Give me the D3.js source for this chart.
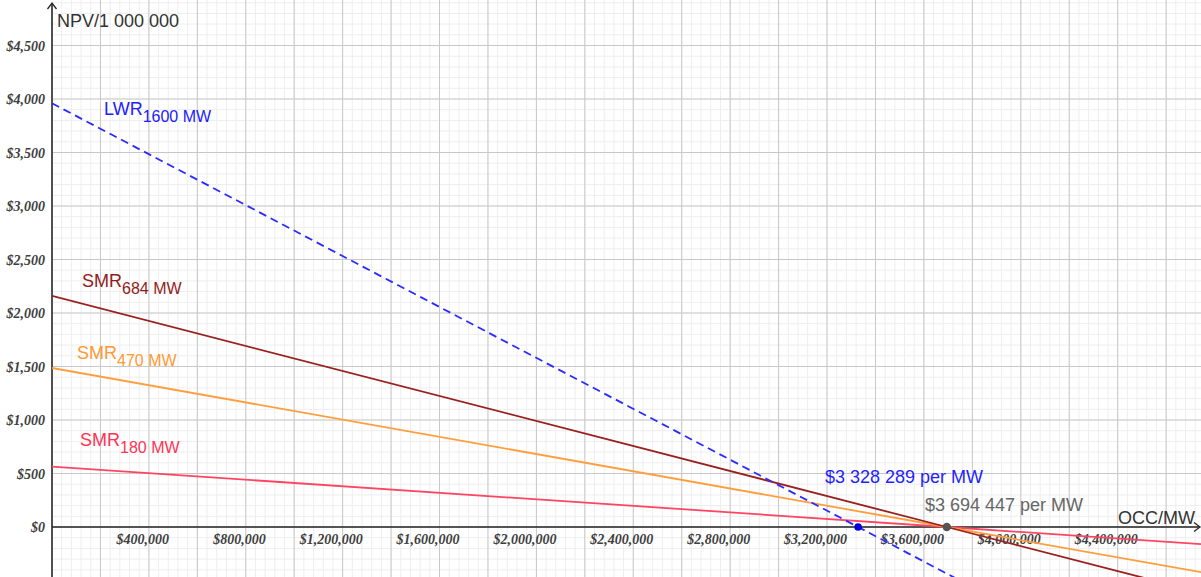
<!DOCTYPE html>
<html>
<head>
<meta charset="utf-8">
<script src="https://cdn.jsdelivr.net/npm/d3@7/dist/d3.min.js"></script>
<style>
  html, body { margin: 0; padding: 0; background: #fff; }
  svg { display: block; }
</style>
</head>
<body>
<svg id="chart" width="1201" height="577"></svg>
<script>
// ---------- data ----------
const seriesNames = ["LWR", "SMR684", "SMR470", "SMR180"];
const seriesMain = ["LWR", "SMR", "SMR", "SMR"];
const seriesSub = ["1600 MW", "684 MW", "470 MW", "180 MW"];
// NPV/1 000 000 at OCC = 0, at the break-even OCC, and at the right edge
const occPoints = {
  LWR: [0, 3328289, 4744000],
  SMR684: [0, 3694447, 4744000],
  SMR470: [0, 3694447, 4744000],
  SMR180: [0, 3694447, 4744000]
};
const npvPoints = {
  LWR: [3960, 0, -1684],
  SMR684: [2160, 0, -613],
  SMR470: [1486, 0, -422],
  SMR180: [564, 0, -160]
};
const breakEvenOcc = [3328289, 3694447];
const breakEvenLabels = ["$3 328 289 per MW", "$3 694 447 per MW"];
const xTickValues = [400000, 800000, 1200000, 1600000, 2000000, 2400000, 2800000, 3200000, 3600000, 4000000, 4400000];
const xTickLabels = ["$400,000", "$800,000", "$1,200,000", "$1,600,000", "$2,000,000", "$2,400,000", "$2,800,000", "$3,200,000", "$3,600,000", "$4,000,000", "$4,400,000"];
const yTickValues = [0, 500, 1000, 1500, 2000, 2500, 3000, 3500, 4000, 4500];
const yTickLabels = ["$0", "$500", "$1,000", "$1,500", "$2,000", "$2,500", "$3,000", "$3,500", "$4,000", "$4,500"];

// ---------- layout ----------
const W = 1201, H = 577;
const x0px = 52, y0px = 527;
const pxPerX = 48.44 / 200000;
const pxPerY = 53.5 / 500;
const x = d3.scaleLinear().domain([0, (W - x0px) / pxPerX]).range([x0px, W]);
const y = d3.scaleLinear().domain([-(H - y0px) / pxPerY, y0px / pxPerY]).range([H, 0]);

const svg = d3.select("#chart");
const colors = { LWR: "#2b2bff", SMR684: "#9a1f1f", SMR470: "#ff9e3d", SMR180: "#ff4561" };
const textColors = { LWR: "#2020ff", SMR684: "#921c1c", SMR470: "#ff9933", SMR180: "#ff3355" };

svg.append("defs").append("clipPath").attr("id", "plotClip")
  .append("rect").attr("x", x0px).attr("y", 0).attr("width", W - x0px).attr("height", H);

// ---------- grid ----------
const g = svg.append("g").attr("clip-path", "url(#plotClip)");
const xMinor = d3.range(0, x.domain()[1], 40000);
const yMinor = d3.range(Math.ceil(y.domain()[0] / 100) * 100, y.domain()[1], 100);
g.selectAll(".vxm").data(xMinor).enter().append("line")
  .attr("x1", d => x(d)).attr("x2", d => x(d)).attr("y1", 0).attr("y2", H)
  .attr("stroke", "#eeeeee").attr("stroke-width", 1);
g.selectAll(".hym").data(yMinor).enter().append("line")
  .attr("x1", x0px).attr("x2", W).attr("y1", d => y(d)).attr("y2", d => y(d))
  .attr("stroke", "#eeeeee").attr("stroke-width", 1);
const xMajor = d3.range(200000, x.domain()[1], 200000);
const yMajor = d3.range(-500, y.domain()[1], 500);
g.selectAll(".vxM").data(xMajor).enter().append("line")
  .attr("x1", d => x(d)).attr("x2", d => x(d)).attr("y1", 0).attr("y2", H)
  .attr("stroke", "#c8c8c8").attr("stroke-width", 1);
g.selectAll(".hyM").data(yMajor).enter().append("line")
  .attr("x1", x0px).attr("x2", W).attr("y1", d => y(d)).attr("y2", d => y(d))
  .attr("stroke", "#c8c8c8").attr("stroke-width", 1);

// ---------- axes ----------
const axisColor = "#262626";
svg.append("line").attr("x1", x0px).attr("x2", W - 2).attr("y1", y(0)).attr("y2", y(0))
  .attr("stroke", axisColor).attr("stroke-width", 1.5);
svg.append("line").attr("x1", x(0)).attr("x2", x(0)).attr("y1", 4).attr("y2", H)
  .attr("stroke", axisColor).attr("stroke-width", 1.6);
// arrows
svg.append("path").attr("d", `M${x(0) - 4.5},${9} L${x(0)},${3} L${x(0) + 4.5},${9}`)
  .attr("fill", "none").attr("stroke", axisColor).attr("stroke-width", 1.3);
svg.append("path").attr("d", `M${W - 7},${y(0) - 4.5} L${W - 1},${y(0)} L${W - 7},${y(0) + 4.5}`)
  .attr("fill", "none").attr("stroke", axisColor).attr("stroke-width", 1.3);

const tickFont = "'Liberation Serif', 'Times New Roman', serif";
svg.selectAll(".xt").data(xTickValues).enter().append("text")
  .attr("x", d => x(d) + 20).attr("y", y0px + 17)
  .attr("text-anchor", "end")
  .attr("font-family", tickFont).attr("font-style", "italic").attr("font-weight", "bold")
  .attr("font-size", "14px").attr("fill", "#3e3e3e")
  .text((d, i) => xTickLabels[i]);
svg.selectAll(".yt").data(yTickValues).enter().append("text")
  .attr("x", 45).attr("y", d => y(d) + 5)
  .attr("text-anchor", "end")
  .attr("font-family", tickFont).attr("font-style", "italic").attr("font-weight", "bold")
  .attr("font-size", "14px").attr("fill", "#3e3e3e")
  .text((d, i) => yTickLabels[i]);

const labelFont = "'Liberation Sans', Arial, sans-serif";
svg.append("text").attr("x", 57).attr("y", 27)
  .attr("font-family", labelFont).attr("font-size", "18px").attr("fill", "#333")
  .text("NPV/1 000 000");
svg.append("text").attr("x", 1118).attr("y", 524)
  .attr("font-family", labelFont).attr("font-size", "18px").attr("fill", "#333")
  .text("OCC/MW");

// ---------- lines ----------
const lineGen = d3.line().x(d => x(d[0])).y(d => y(d[1]));
const lg = svg.append("g").attr("clip-path", "url(#plotClip)");
// draw order: SMR180, SMR470, SMR684, LWR (LWR on top)
["SMR180", "SMR470", "SMR684", "LWR"].forEach(name => {
  const pts = occPoints[name].map((o, i) => [o, npvPoints[name][i]]);
  const p = lg.append("path").datum(pts)
    .attr("d", lineGen).attr("fill", "none")
    .attr("stroke", colors[name]).attr("stroke-width", 1.8);
  if (name === "LWR") p.attr("stroke-dasharray", "8,5");
});

// ---------- series labels ----------
const labelPos = { LWR: [104, 115], SMR684: [82, 287], SMR470: [77, 359], SMR180: [80, 446] };
seriesNames.forEach((name, i) => {
  const t = svg.append("text").attr("x", labelPos[name][0]).attr("y", labelPos[name][1])
    .attr("font-family", labelFont).attr("font-size", "18px").attr("fill", textColors[name]);
  t.append("tspan").text(seriesMain[i]);
  t.append("tspan").attr("dy", 7).attr("font-size", "16px").text(seriesSub[i]);
});

// ---------- break-even points ----------
const dotColors = ["#0000dd", "#555555"];
const bLabelColors = ["#1f1fff", "#666666"];
const bLabelPos = [[825, 483], [925, 511]];
breakEvenOcc.forEach((v, i) => {
  svg.append("circle").attr("cx", x(v)).attr("cy", y(0)).attr("r", i === 0 ? 3.8 : 4.2)
    .attr("fill", dotColors[i]);
  svg.append("text").attr("x", bLabelPos[i][0]).attr("y", bLabelPos[i][1])
    .attr("font-family", labelFont).attr("font-size", "18px").attr("fill", bLabelColors[i])
    .text(breakEvenLabels[i]);
});
</script>
</body>
</html>
